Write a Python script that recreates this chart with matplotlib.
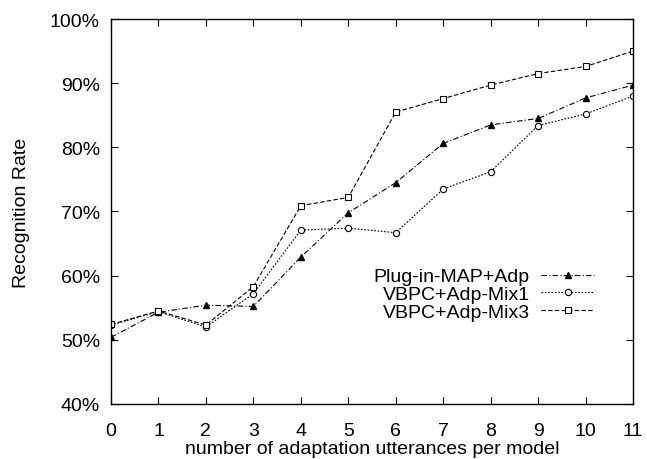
import matplotlib
matplotlib.use("Agg")
import matplotlib.pyplot as plt
from matplotlib.ticker import FuncFormatter

plt.rcParams['font.family'] = ['Liberation Sans', 'DejaVu Sans']

x = list(range(12))
plugin_map = [50.4, 54.3, 55.4, 55.2, 62.9, 69.8, 74.5, 80.6, 83.5, 84.5, 87.7, 89.7]
vbpc_mix1 = [52.3, 54.4, 52.0, 57.2, 67.1, 67.4, 66.7, 73.5, 76.2, 83.4, 85.2, 88.0]
vbpc_mix3 = [52.4, 54.5, 52.3, 58.3, 70.9, 72.2, 85.5, 87.6, 89.7, 91.5, 92.6, 95.0]
labels = ["Plug-in-MAP+Adp", "VBPC+Adp-Mix1", "VBPC+Adp-Mix3"]
yticks = [40, 50, 60, 70, 80, 90, 100]

fig = plt.figure(figsize=(6.47, 4.60), dpi=100)
ax = fig.add_axes([0.1716, 0.1196, 0.8068, 0.8369])

ax.plot(x, plugin_map, color='black', lw=0.8, linestyle=(0, (5, 2, 1, 2)),
        marker='^', markersize=4.5, markerfacecolor='black', label=labels[0])
ax.plot(x, vbpc_mix1, color='black', lw=0.8, linestyle=(0, (1.5, 1.5)),
        marker='o', markersize=4.5, markerfacecolor='white', markeredgewidth=0.8, label=labels[1])
ax.plot(x, vbpc_mix3, color='black', lw=0.8, linestyle=(0, (4, 2)),
        marker='s', markersize=4.5, markerfacecolor='white', markeredgewidth=0.8, label=labels[2])

ax.set_xlim(0, 11)
ax.set_ylim(40, 100)
ax.set_xticks(x)
ax.set_yticks(yticks)
ax.yaxis.set_major_formatter(FuncFormatter(lambda v, p: f"{int(v)}%"))
ax.tick_params(direction='in', length=5, width=0.8, top=True, right=True,
               labelsize=14)
ax.tick_params(axis='x', pad=13)
ax.tick_params(axis='y', pad=8)
for s in ax.spines.values():
    s.set_linewidth(1.0)

ax.set_xlabel("number of adaptation utterances per model", fontsize=14, labelpad=1)
ax.set_ylabel("Recognition Rate", fontsize=14, labelpad=14)

leg = ax.legend(loc='center right', bbox_to_anchor=(0.925, 0.285), frameon=False,
                markerfirst=False, fontsize=14, borderaxespad=0, borderpad=0,
                labelspacing=0.0, handlelength=2.7, handletextpad=0.6)
for t in leg.get_texts():
    t.set_ha('right')
leg._legend_box.align = "right"

fig.savefig("out.png", dpi=100)
